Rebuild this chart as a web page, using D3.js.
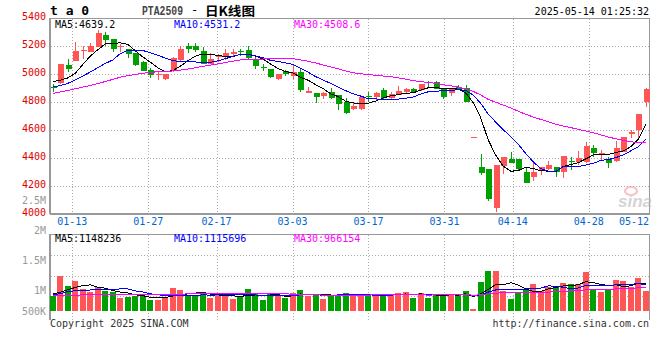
<!DOCTYPE html>
<html>
<head>
<meta charset="utf-8">
<script src="https://cdn.jsdelivr.net/npm/d3@7"></script>
<style>
body { margin: 0; background: #fff; }
text { font-family: "DejaVu Sans Mono", monospace; font-size: 10px; }
</style>
</head>
<body>
<div id="chart"></div>
<script>
// trading days shown, 2025
const dates = [
    '01-08','01-09','01-10','01-13','01-14','01-15','01-16','01-17','01-20','01-21','01-22','01-23','01-24','01-27',
    '02-05','02-06','02-07','02-10','02-11','02-12','02-13','02-14','02-17','02-18','02-19','02-20','02-21','02-24','02-25','02-26','02-27','02-28',
    '03-03','03-04','03-05','03-06','03-07','03-10','03-11','03-12','03-13','03-14','03-17','03-18','03-19','03-20','03-21','03-24','03-25','03-26','03-27','03-28','03-31',
    '04-01','04-02','04-03','04-07','04-08','04-09','04-10','04-11','04-14','04-15','04-16','04-17','04-18','04-21','04-22','04-23','04-24','04-25','04-28','04-29','04-30',
    '05-06','05-07','05-08','05-09','05-12','05-13'
];
const open = [
    4905,4938,5064,5095,5165,5160,5196,5279,5250,5193,5179,5150,5088,5029,4996,4962,5018,5100,5200,5200,
    5164,5071,5119,5119,5140,5162,5171,5107,5052,5036,4964,5021,4988,5012,4867,4862,4845,4874,4850,4802,
    4750,4750,4840,4838,4886,4831,4850,4874,4893,4886,4942,4945,4898,4862,4910,4898,4548,4338,4319,4040,
    4345,4393,4393,4298,4267,4310,4319,4333,4302,4381,4374,4369,4469,4421,4393,4381,4445,4569,4600,4802
];
const high = [
    4926,5075,5107,5226,5198,5219,5314,5298,5252,5212,5181,5152,5090,5040,5018,5000,5121,5200,5219,5224,
    5193,5148,5140,5179,5179,5179,5200,5124,5069,5038,5000,5029,5064,5040,4905,4864,4874,4898,4852,4826,
    4795,4840,4874,4874,4898,4869,4914,4898,4902,4928,4950,4948,4900,4900,4921,4921,4548,4429,4321,4352,
    4410,4440,4395,4333,4369,4336,4379,4336,4416,4410,4452,4517,4493,4457,4410,4521,4550,4600,4716,4898
];
const low = [
    4874,4932,5017,5093,5104,5158,5195,5202,5160,5160,5117,5058,5018,4975,4957,4960,5016,5093,5148,5160,
    5070,5069,5083,5100,5124,5131,5110,5036,5021,4969,4960,4988,4964,4874,4862,4795,4819,4824,4743,4714,
    4743,4743,4802,4814,4819,4814,4848,4867,4862,4880,4910,4893,4819,4845,4886,4800,4548,4279,4093,4016,
    4288,4365,4309,4219,4238,4279,4317,4267,4260,4314,4350,4367,4410,4386,4326,4374,4443,4541,4541,4767
];
const close = [
    4898,5069,5036,5164,5170,5200,5295,5243,5179,5197,5145,5064,5025,4990,5000,4998,5112,5179,5180,5170,
    5071,5107,5131,5150,5160,5157,5112,5060,5047,4981,4998,4998,5017,4886,4881,4838,4862,4826,4786,4719,
    4774,4838,4836,4867,4826,4855,4879,4890,4874,4926,4938,4893,4838,4898,4893,4802,4548,4295,4107,4350,
    4407,4367,4321,4224,4302,4333,4350,4298,4414,4369,4402,4486,4438,4438,4362,4469,4548,4588,4714,4890
];
const volume = [
    639000,1472000,1042000,1250000,903000,778000,1000000,833000,778000,542000,
    597000,639000,639000,458000,458000,583000,972000,875000,667000,639000,
    778000,556000,694000,639000,514000,569000,917000,694000,458000,694000,
    667000,556000,764000,861000,639000,694000,500000,639000,667000,764000,
    667000,667000,694000,639000,667000,667000,764000,806000,556000,764000,
    556000,667000,667000,708000,708000,833000,83000,1222000,1667000,1667000,
    833000,500000,736000,875000,1125000,833000,1014000,1056000,1181000,1125000,
    1125000,1611000,875000,806000,875000,1292000,1250000,1014000,1389000,833000
];

const ma5Head = [4945, 4955, 4972, 5005];
const ma10Head = [4908, 4917, 4933, 4958, 4985, 5014, 5045, 5075, 5100];
const ma30Head = [4860,4872,4882,4895,4906,4918,4932,4946,4962,4977,4988,4997,5005,5012,5016,
    5018,5022,5028,5035,5045,5055,5064,5072,5082,5092,5100,5105,5107,5107];
const vma5Head = [700000, 780000, 880000, 980000];
const vma10Head = [667000, 722000, 806000, 847000, 861000, 875000, 889000, 889000, 889000];
const vma30Head = [650000,655000,660000,664000,668000,672000,676000,680000,684000,688000,690000,692000,
    694000,696000,698000,700000,703000,706000,709000,712000,715000,718000,721000,724000,727000,729000,
    731000,733000,735000];

const priceTicks = [4000, 4200, 4400, 4600, 4800, 5000, 5200, 5400];
const volTicks = [2500000, 2000000, 1500000, 1000000, 500000];
const volTickLabels = ['2.5M', '2M', '1.5M', '1M', '500K'];
const dateTicks = ['01-13', '01-27', '02-17', '03-03', '03-17', '03-31', '04-14', '04-28', '05-12'];
const maLabels = ['MA5:4639.2', 'MA10:4531.2', 'MA30:4508.6'];
const volMaLabels = ['MA5:1148236', 'MA10:1115696', 'MA30:966154'];

const RED = '#ff5555', GREEN = '#00a000', GRID = '#aaaaaa', AXIS = '#999999';
const maColors = ['#000000', '#0000ff', '#ff00ff'];

const svg = d3.select('#chart').append('svg')
    .attr('width', 660)
    .attr('height', 360);

const n = dates.length;
const x = d3.scaleLinear().domain([0, n - 1]).range([52.7, 645.9]);
const xGrid = d3.scaleLinear().domain([0, n - 1]).range([49.5, 649.5]);
const y = d3.scaleLinear().domain([4000, 5400]).range([214, 18]);
const yVol = d3.scaleLinear().domain([0, 2000000]).range([311, 263]);
const yVolLabel = d3.scaleLinear().domain([500000, 2500000]).range([320, 200]);

function movingAvg(values, len, head) {
    return values.map((v, i) => i < head.length ? head[i] : d3.mean(values.slice(i - len + 1, i + 1)));
}
const priceMA = [movingAvg(close, 5, ma5Head), movingAvg(close, 10, ma10Head), movingAvg(close, 30, ma30Head)];
const volMA = [movingAvg(volume, 5, vma5Head), movingAvg(volume, 10, vma10Head), movingAvg(volume, 30, vma30Head)];

const idx = d3.range(n);
const up = i => close[i] >= open[i];
const px = i => Math.round(x(i));
const gridIdx = dateTicks.map(d => dates.indexOf(d)).filter(i => xGrid(i) < 640);

// grid
const grid = svg.append('g')
    .attr('stroke', GRID)
    .attr('stroke-dasharray', '1,2')
    .attr('shape-rendering', 'crispEdges');
grid.selectAll('.hp')
    .data(priceTicks.slice(1, -1))
    .join('line')
    .attr('x1', 51).attr('x2', 649)
    .attr('y1', d => Math.round(y(d)) + 0.5)
    .attr('y2', d => Math.round(y(d)) + 0.5);
grid.selectAll('.vp')
    .data(gridIdx)
    .join('line')
    .attr('x1', d => Math.round(xGrid(d)) + 0.5)
    .attr('x2', d => Math.round(xGrid(d)) + 0.5)
    .attr('y1', 19).attr('y2', 213);
grid.append('g').selectAll('line')
    .data([255, 275.7, 296.3])
    .join('line')
    .attr('x1', 51).attr('x2', 649)
    .attr('y1', d => Math.round(d) + 0.5)
    .attr('y2', d => Math.round(d) + 0.5);
grid.append('g').selectAll('line')
    .data(gridIdx)
    .join('line')
    .attr('x1', d => Math.round(xGrid(d)) + 0.5)
    .attr('x2', d => Math.round(xGrid(d)) + 0.5)
    .attr('y1', 235).attr('y2', 320);

// frames
const frame = svg.append('g')
    .attr('stroke', AXIS)
    .attr('shape-rendering', 'crispEdges');
frame.append('line').attr('x1', 50).attr('x2', 650).attr('y1', 18.5).attr('y2', 18.5);
frame.append('line').attr('x1', 649.5).attr('x2', 649.5).attr('y1', 18).attr('y2', 214);
frame.append('line').attr('x1', 50).attr('x2', 650).attr('y1', 213.5).attr('y2', 213.5).attr('stroke-width', 2);
frame.append('line').attr('x1', 50).attr('x2', 50).attr('y1', 18).attr('y2', 214).attr('stroke-width', 2);
frame.append('line').attr('x1', 50).attr('x2', 650).attr('y1', 234.5).attr('y2', 234.5);
frame.append('line').attr('x1', 649.5).attr('x2', 649.5).attr('y1', 234).attr('y2', 320);
frame.append('line').attr('x1', 50).attr('x2', 50).attr('y1', 234).attr('y2', 320).attr('stroke-width', 2);

// sina watermark
const wm = svg.append('g').attr('opacity', 0.6);
wm.append('ellipse').attr('cx', 631).attr('cy', 191).attr('rx', 6).attr('ry', 4)
    .attr('fill', 'none').attr('stroke', '#f2a0a0').attr('stroke-width', 2.2);
wm.append('text').attr('x', 618).attr('y', 207)
    .style('font-family', 'Arial, "Liberation Sans", sans-serif')
    .style('font-size', '17px').style('font-weight', 'bold').style('font-style', 'italic')
    .attr('fill', '#b8b8b8').text('sina');

// volume bars
svg.append('g')
    .attr('shape-rendering', 'crispEdges')
    .selectAll('rect')
    .data(idx)
    .join('rect')
    .attr('x', i => px(i) - 3)
    .attr('width', 6)
    .attr('y', i => yVol(volume[i]))
    .attr('height', i => yVol(0) - yVol(volume[i]))
    .attr('fill', i => up(i) ? RED : GREEN);

// candles
const candles = svg.append('g')
    .attr('shape-rendering', 'crispEdges')
    .selectAll('g')
    .data(idx)
    .join('g')
    .attr('fill', i => up(i) ? RED : GREEN)
    .attr('stroke', i => up(i) ? RED : GREEN);
candles.append('line')
    .attr('x1', i => px(i) + 0.5)
    .attr('x2', i => px(i) + 0.5)
    .attr('y1', i => y(high[i]))
    .attr('y2', i => y(low[i]));
candles.append('rect')
    .attr('stroke', 'none')
    .attr('x', i => px(i) - 2.5)
    .attr('width', 6)
    .attr('y', i => y(Math.max(open[i], close[i])))
    .attr('height', i => Math.max(1, Math.abs(y(open[i]) - y(close[i]))));

// moving averages
const line = d3.line().x((d, i) => x(i));
priceMA.forEach((s, k) => {
    svg.append('path')
        .attr('d', line.y(d => y(d))(s))
        .attr('fill', 'none')
        .attr('stroke', maColors[k])
        .attr('stroke-width', 1)
        .attr('shape-rendering', 'crispEdges');
});
volMA.forEach((s, k) => {
    svg.append('path')
        .attr('d', line.y(d => yVol(d))(s))
        .attr('fill', 'none')
        .attr('stroke', maColors[k])
        .attr('stroke-width', 1)
        .attr('shape-rendering', 'crispEdges');
});

// axis labels
svg.append('g').selectAll('text')
    .data(priceTicks)
    .join('text')
    .attr('x', 46)
    .attr('y', d => y(d) + 2)
    .attr('text-anchor', 'end')
    .attr('fill', '#e00000')
    .text(d => d);
svg.append('g').selectAll('text')
    .data(volTicks)
    .join('text')
    .attr('x', 46)
    .attr('y', d => Math.min(yVolLabel(d), 311) + 3.6)
    .attr('text-anchor', 'end')
    .attr('fill', '#999999')
    .text((d, i) => volTickLabels[i]);
svg.append('g').selectAll('text')
    .data(dateTicks)
    .join('text')
    .attr('x', d => Math.min(xGrid(dates.indexOf(d)), 634))
    .attr('y', 224.6)
    .attr('text-anchor', 'middle')
    .attr('fill', '#0066cc')
    .text(d => d);

// legends
const labelX = [55, 174, 294];
svg.append('g').selectAll('text')
    .data(maLabels)
    .join('text')
    .attr('x', (d, i) => labelX[i])
    .attr('y', 27.6)
    .attr('fill', (d, i) => maColors[i])
    .text(d => d);
svg.append('g').selectAll('text')
    .data(volMaLabels)
    .join('text')
    .attr('x', (d, i) => labelX[i])
    .attr('y', 242)
    .attr('fill', (d, i) => maColors[i])
    .text(d => d);

// header and footer
svg.append('text')
    .attr('x', 50).attr('y', 15)
    .style('font-size', '13px').style('font-weight', 'bold')
    .attr('fill', '#000')
    .text('t a 0');
svg.append('text')
    .attr('x', 142).attr('y', 15)
    .attr('textLength', 41).attr('lengthAdjust', 'spacingAndGlyphs')
    .style('font-family', '"Liberation Mono", monospace').style('font-size', '12px').style('font-weight', 'bold')
    .attr('fill', '#444').text('PTA2509');
svg.append('text')
    .attr('x', 191).attr('y', 14)
    .style('font-size', '12px')
    .attr('fill', '#000').text('-');
svg.append('text')
    .attr('x', 205).attr('y', 15.5)
    .attr('textLength', 50).attr('lengthAdjust', 'spacingAndGlyphs')
    .style('font-family', '"Noto Sans CJK SC", sans-serif').style('font-size', '12.5px').style('font-weight', 'bold')
    .attr('fill', '#000').text('日K线图');
svg.append('text')
    .attr('x', 649).attr('y', 15)
    .attr('text-anchor', 'end')
    .attr('fill', '#000')
    .text('2025-05-14 01:25:32');
svg.append('text')
    .attr('x', 50).attr('y', 327)
    .attr('fill', '#333')
    .text('Copyright 2025 SINA.COM');
svg.append('text')
    .attr('x', 649).attr('y', 327)
    .attr('text-anchor', 'end')
    .attr('fill', '#333')
    .text('http://finance.sina.com.cn');
</script>
</body>
</html>
